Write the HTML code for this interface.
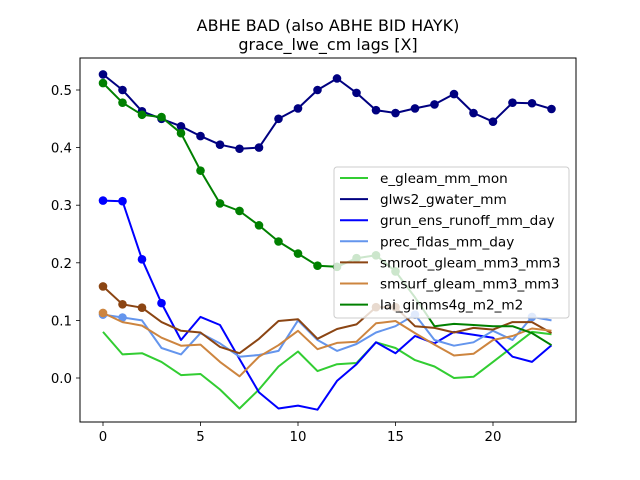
<!DOCTYPE html>
<html><head><meta charset="utf-8"><style>
body{margin:0;background:#fff;}
svg{display:block;font-family:"DejaVu Sans","Liberation Sans",sans-serif;}
</style></head><body>
<svg id="chart" width="640" height="480">
<rect x="0" y="0" width="640" height="480" fill="#fff"/>
<text x="328" y="31" font-size="16" text-anchor="middle">ABHE BAD (also ABHE BID HAYK)</text>
<text x="328" y="50" font-size="16" text-anchor="middle">grace_lwe_cm lags [X]</text>
<g id="series"></g>
<rect x="80" y="58" width="496" height="364" fill="none" stroke="#000" stroke-width="1"/>
<g id="axes"></g>
<g id="legend"></g>
</svg>
<script>
const lags=[0,1,2,3,4,5,6,7,8,9,10,11,12,13,14,15,16,17,18,19,20,21,22,23];
const xTicks=[0,5,10,15,20];
const yTicks=[0.0,0.1,0.2,0.3,0.4,0.5];
const seriesNames=["e_gleam_mm_mon","glws2_gwater_mm","grun_ens_runoff_mm_day","prec_fldas_mm_day","smroot_gleam_mm3_mm3","smsurf_gleam_mm3_mm3","lai_gimms4g_m2_m2"];
const seriesColors=["#32cd32","#000080","#0000ff","#6495ed","#8b4513","#cd853f","#008000"];
const eGleam=[.08,.041,.043,.028,.005,.007,-.02,-.053,-.02,.02,.046,.012,.024,.026,.062,.052,.031,.02,0,.002,.028,.054,.08,.076];
const glws2=[.527,.50,.463,.45,.437,.42,.405,.398,.40,.45,.468,.50,.52,.495,.465,.46,.468,.475,.493,.46,.445,.478,.477,.467];
const grun=[.308,.307,.206,.13,.066,.106,.092,.033,-.025,-.053,-.048,-.055,-.005,.024,.062,.043,.073,.06,.08,.075,.07,.037,.028,.057];
const prec=[.11,.105,.1,.052,.041,.078,.06,.037,.04,.047,.1,.066,.047,.059,.079,.09,.11,.066,.056,.062,.082,.066,.106,.1];
const smroot=[.159,.128,.122,.097,.082,.079,.054,.043,.068,.099,.102,.068,.085,.093,.123,.123,.09,.087,.079,.087,.084,.097,.097,.078];
const smsurf=[.113,.097,.091,.07,.056,.058,.028,.003,.037,.057,.082,.05,.061,.063,.095,.099,.078,.058,.039,.042,.066,.073,.086,.082];
const lai=[.512,.478,.457,.453,.425,.36,.303,.29,.265,.237,.216,.195,.193,.208,.213,.185,.14,.09,.094,.092,.09,.09,.078,.057];
const markerLags=[[],lags,[0,1,2,3],[0,1,16,22],[0,1,2,14,15],[0],[0,1,2,3,4,5,6,7,8,9,10,11,12,13,14,15]];
const allSeries=[eGleam,glws2,grun,prec,smroot,smsurf,lai];

const NS="http://www.w3.org/2000/svg";
const xs=v=>103+v*19.5;
const ys=v=>378-v*576;
function mk(tag,attrs,parent){const e=document.createElementNS(NS,tag);for(const k in attrs)e.setAttribute(k,attrs[k]);parent.appendChild(e);return e;}
const gS=document.getElementById('series');
allSeries.forEach((vals,si)=>{
  const g=mk('g',{},gS);
  
  
  const pts=vals.map((v,i)=>xs(lags[i]).toFixed(1)+','+ys(v).toFixed(1)).join(' ');
  const pl=mk('polyline',{points:pts,fill:'none',stroke:seriesColors[si],'stroke-width':2,'stroke-linejoin':'round'},g);
  
  
  markerLags[si].forEach(l=>{
    const c=mk('circle',{cx:xs(l),cy:ys(vals[l]),r:4.3,fill:seriesColors[si]},g);
    
    
  });
});
const gA=document.getElementById('axes');
xTicks.forEach(t=>{
  const x=xs(t);
  const l=mk('line',{x1:x,x2:x,y1:422,y2:426,stroke:'#000','stroke-width':0.8},gA);
  
  
  const tx=mk('text',{x:x,y:441,'font-size':13.3,'text-anchor':'middle'},gA);
  tx.textContent=t;
  
  
});
yTicks.forEach(t=>{
  const y=ys(t);
  const l=mk('line',{x1:76,x2:80,y1:y,y2:y,stroke:'#000','stroke-width':0.8},gA);
  
  
  const tx=mk('text',{x:72,y:y+5,'font-size':13.3,'text-anchor':'end'},gA);
  tx.textContent=t.toFixed(1);
  
  
});
const gL=document.getElementById('legend');


mk('rect',{x:334,y:167,width:235,height:151,rx:3,fill:'#fff','fill-opacity':0.8,stroke:'#ccc','stroke-width':1},gL);
seriesNames.forEach((n,i)=>{
  const y=178+i*21.1;
  const g=mk('g',{},gL);
  
  
  mk('line',{x1:340,x2:368,y1:y,y2:y,stroke:seriesColors[i],'stroke-width':2},g);
  const t=mk('text',{x:380,y:y+5,'font-size':13.6},g);
  t.textContent=n;
});
</script>
</body></html>
